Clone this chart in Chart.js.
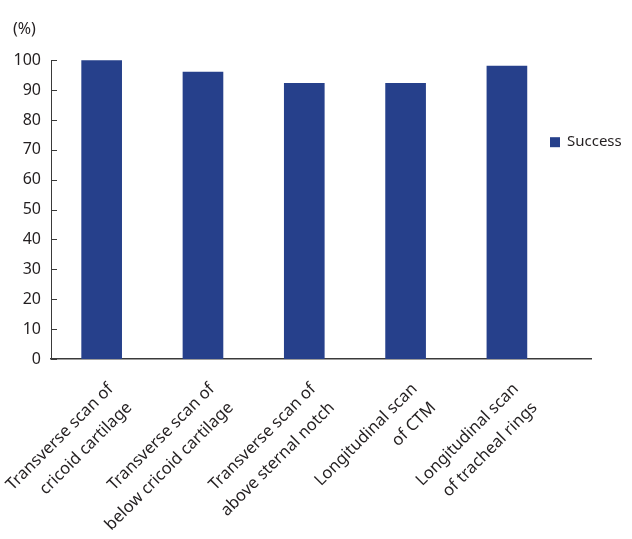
<!DOCTYPE html>
<html>
<head>
<meta charset="utf-8">
<script src="https://cdn.jsdelivr.net/npm/chart.js@4"></script>
<style>
  html, body { margin: 0; padding: 0; background: #fff; }
  #wrap { width: 632px; height: 539px; }
</style>
</head>
<body>
<div id="wrap"><canvas id="successChart" width="632" height="539"></canvas></div>
<script>
// scan positions and success rate (%)
const categories = [
  ['Transverse scan of', 'cricoid cartilage'],
  ['Transverse scan of', 'below cricoid cartilage'],
  ['Transverse scan of', 'above sternal notch'],
  ['Longitudinal scan', 'of CTM'],
  ['Longitudinal scan', 'of tracheal rings']
];
const successValues = [100, 96, 92.3, 92.3, 98];
const yTicks = [0, 10, 20, 30, 40, 50, 60, 70, 80, 90, 100];

const barColor = '#26408b';
const textColor = '#231f20';
const axisColor = '#3a3a3a';

// small inward tick marks on the y axis + the legend on the right
const extras = {
  id: 'extras',
  afterDraw(chart) {
    const c = chart.ctx;
    const y = chart.scales.y;
    c.save();
    c.strokeStyle = axisColor;
    c.lineWidth = 1;
    y.ticks.forEach((t, i) => {
      const py = Math.round(y.getPixelForTick(i)) + 0.5;
      c.beginPath();
      c.moveTo(y.right, py);
      c.lineTo(y.right + 6, py);
      c.stroke();
    });
    const ds = chart.data.datasets[0];
    const lx = chart.chartArea.right - 41;
    const ly = chart.chartArea.top + 82;
    c.fillStyle = ds.backgroundColor;
    c.fillRect(lx, ly - 5, 10, 10);
    c.fillStyle = textColor;
    c.font = '15px "Noto Sans"';
    c.textBaseline = 'middle';
    c.fillText(ds.label, lx + 17, ly);
    c.restore();
  }
};

new Chart(document.getElementById('successChart'), {
  type: 'bar',
  data: {
    datasets: [{
      label: 'Success',
      data: successValues.map((v, i) => ({ x: i + 1, y: v })),
      backgroundColor: barColor,
      barThickness: 40
    }]
  },
  options: {
    responsive: false,
    animation: false,
    layout: { padding: { left: 13, right: 41, top: 0, bottom: 0 } },
    plugins: {
      legend: { display: false },
      tooltip: { enabled: false },
      title: {
        display: true,
        text: '(%)',
        align: 'start',
        color: textColor,
        font: { family: 'Noto Sans', size: 16, weight: 'normal' },
        padding: { top: 20, bottom: 21 }
      }
    },
    scales: {
      x: {
        type: 'linear',
        min: 0.5,
        max: 5.83,
        offset: false,
        grid: { display: false, drawTicks: false },
        border: { display: true, color: axisColor, width: 1.5 },
        afterBuildTicks: (axis) => { axis.ticks = categories.map((c, i) => ({ value: i + 1 })); },
        afterFit: (scale) => { scale.height = 180; scale.paddingLeft = 0; scale.paddingRight = 0; },
        ticks: {
          autoSkip: false,
          maxRotation: 45,
          minRotation: 45,
          padding: 18,
          labelOffset: 9,
          color: textColor,
          font: { family: 'Noto Sans', size: 16.5, lineHeight: 1.6 },
          callback: (v) => categories[v - 1] || ''
        }
      },
      y: {
        min: 0,
        max: 100,
        grid: { display: false, drawTicks: false },
        border: { display: true, color: axisColor, width: 1 },
        afterBuildTicks: (axis) => { axis.ticks = yTicks.map(v => ({ value: v })); },
        afterFit: (scale) => { scale.width = 38; },
        ticks: {
          padding: 10,
          color: textColor,
          font: { family: 'Noto Sans', size: 16 }
        }
      }
    }
  },
  plugins: [extras]
});
</script>
</body>
</html>
